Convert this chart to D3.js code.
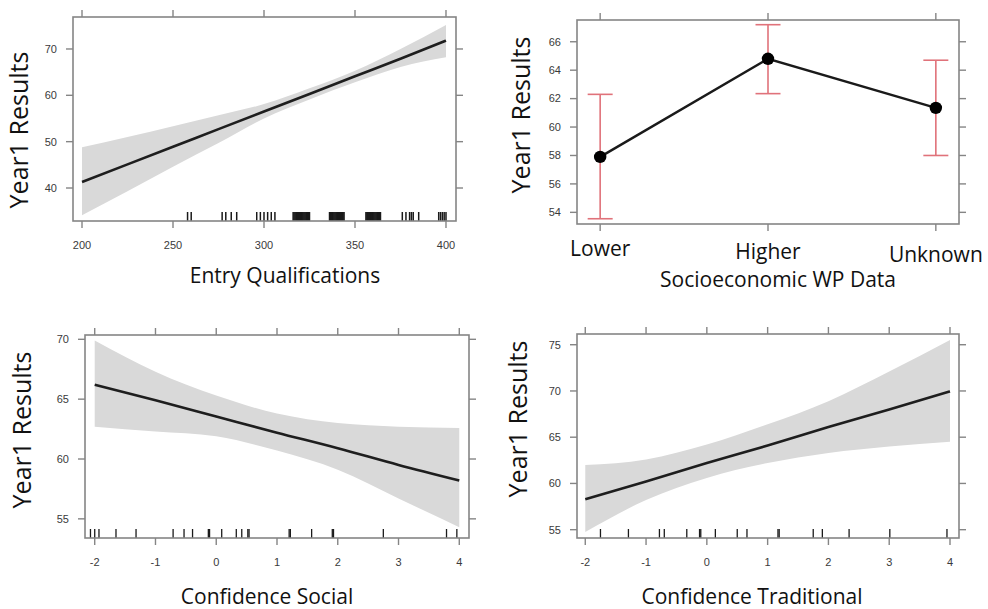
<!DOCTYPE html>
<html>
<head>
<meta charset="utf-8">
<script src="https://cdn.jsdelivr.net/npm/d3@7"></script>
<style>
  body { margin: 0; background: #fff; }
  text { font-family: "Open Sans", sans-serif; }
  .tick-label { font-family: "Liberation Sans", sans-serif; font-size: 11px; fill: #3a3a3a; }
</style>
</head>
<body>
<svg width="988" height="609"></svg>
<script>
// ---- data ----

// Entry Qualifications effect
const entryX = [200, 225, 250, 275, 300, 325, 350, 375, 400];
const entryFit = [41.3, 45.1, 48.9, 52.7, 56.5, 60.3, 64.1, 67.9, 71.8];
const entryLower = [34.1, 39.3, 44.6, 49.7, 55.0, 59.1, 62.8, 66.1, 68.2];
const entryUpper = [48.8, 51.0, 53.3, 55.7, 58.1, 61.5, 65.3, 70.0, 75.2];
const entryRug = [258, 260, 277, 279, 282, 285, 296, 298, 300, 302, 304, 306,
  316, 316.5, 317, 317.5, 318, 318.5, 319, 319.5, 320, 320.5, 321, 321.5, 322, 322.5, 323, 323.5, 324, 324.5, 325,
  336, 336.5, 337, 337.5, 338, 338.5, 339, 339.5, 340, 340.5, 341, 341.5, 342, 342.5, 343, 343.5, 344,
  356, 356.5, 357, 357.5, 358, 358.5, 359, 359.5, 360, 360.5, 361, 361.5, 362, 362.5, 363, 363.5, 364,
  376, 378, 380, 381, 382, 385, 396, 397, 398, 399, 400];
const entryTicksX = [200, 250, 300, 350, 400];
const entryTicksY = [40, 50, 60, 70];

// Socioeconomic WP Data effect
const seCats = ["Lower", "Higher", "Unknown"];
const seMean = [57.9, 64.8, 61.35];
const seLower = [53.55, 62.35, 58.0];
const seUpper = [62.3, 67.2, 64.7];
const seTicksY = [54, 56, 58, 60, 62, 64, 66];

// Confidence Social effect
const socialX = [-2, -1, 0, 1, 2, 3, 4];
const socialFit = [66.2, 64.9, 63.55, 62.2, 60.9, 59.5, 58.2];
const socialLower = [62.7, 62.3, 61.9, 60.7, 59.1, 56.7, 54.3];
const socialUpper = [69.9, 67.3, 65.3, 63.8, 63.0, 62.7, 62.6];
const socialRug = [-2.07, -2.0, -1.93, -1.65, -1.32, -0.71, -0.53, -0.39, -0.13, -0.11,
  0.09, 0.33, 0.42, 0.52, 0.54, 1.20, 1.22, 1.57, 1.91, 1.93, 2.75, 3.79, 3.96];
const socialTicksY = [55, 60, 65, 70];

// Confidence Traditional effect
const tradX = [-2, -1, 0, 1, 2, 3, 4];
const tradFit = [58.3, 60.2, 62.2, 64.1, 66.1, 68.0, 69.95];
const tradLower = [54.75, 58.2, 60.6, 62.2, 63.3, 64.0, 64.5];
const tradUpper = [62.0, 62.6, 64.2, 66.4, 68.9, 72.1, 75.5];
const tradRug = [-1.75, -1.29, -0.78, -0.70, -0.33, -0.12, -0.10, 0.14, 0.50, 0.66,
  1.17, 1.19, 1.75, 1.90, 2.34, 3.01, 3.95];
const tradTicksY = [55, 60, 65, 70, 75];
const confTicksX = [-2, -1, 0, 1, 2, 3, 4];

// ---- drawing ----
const svg = d3.select("svg");
const boxColor = "#858585";
const tickLen = 7;

function frame(g, box, x, y, xTicks, yTicks) {
  g.append("rect")
    .attr("x", box.x0).attr("y", box.y0)
    .attr("width", box.x1 - box.x0).attr("height", box.y1 - box.y0)
    .attr("fill", "none").attr("stroke", boxColor).attr("stroke-width", 1.6);

  // bottom + top ticks
  g.append("g").selectAll("line").data(xTicks).join("line")
    .attr("x1", d => x(d)).attr("x2", d => x(d))
    .attr("y1", box.y1).attr("y2", box.y1 + tickLen)
    .attr("stroke", boxColor).attr("stroke-width", 1.4);
  g.append("g").selectAll("line").data(xTicks).join("line")
    .attr("x1", d => x(d)).attr("x2", d => x(d))
    .attr("y1", box.y0).attr("y2", box.y0 - tickLen)
    .attr("stroke", boxColor).attr("stroke-width", 1.4);
  // left + right ticks
  g.append("g").selectAll("line").data(yTicks).join("line")
    .attr("x1", box.x0 - tickLen).attr("x2", box.x0)
    .attr("y1", d => y(d)).attr("y2", d => y(d))
    .attr("stroke", boxColor).attr("stroke-width", 1.4);
  g.append("g").selectAll("line").data(yTicks).join("line")
    .attr("x1", box.x1).attr("x2", box.x1 + tickLen)
    .attr("y1", d => y(d)).attr("y2", d => y(d))
    .attr("stroke", boxColor).attr("stroke-width", 1.4);

  // y tick labels
  g.append("g").selectAll("text").data(yTicks).join("text")
    .attr("class", "tick-label")
    .attr("x", box.x0 - tickLen - 9)
    .attr("y", d => y(d))
    .attr("dy", "0.35em")
    .attr("text-anchor", "end")
    .text(d => d);
}

function titles(g, p) {
  g.append("text")
    .attr("x", p.xTitle.x).attr("y", p.xTitle.y)
    .attr("text-anchor", "middle")
    .attr("font-size", 21).attr("fill", "#111")
    .text(p.xTitle.text);
  g.append("text")
    .attr("transform", `translate(${p.yTitle.x},${p.yTitle.y}) rotate(-90)`)
    .attr("text-anchor", "middle")
    .attr("font-size", 25).attr("fill", "#111")
    .text("Year1 Results");
}

function effectPanel(p) {
  const g = svg.append("g");
  const x = d3.scaleLinear().domain(p.xDomain).range([p.box.x0, p.box.x1]);
  const y = d3.scaleLinear().domain(p.yDomain).range([p.box.y1, p.box.y0]);

  const rows = p.xs.map((v, i) => ({ x: v, fit: p.fit[i], lo: p.lo[i], hi: p.hi[i] }));

  const band = d3.area()
    .x(d => x(d.x)).y0(d => y(d.lo)).y1(d => y(d.hi))
    .curve(d3.curveMonotoneX);
  g.append("path").datum(rows)
    .attr("d", band)
    .attr("fill", "#d9d9d9");

  const line = d3.line().x(d => x(d.x)).y(d => y(d.fit)).curve(d3.curveMonotoneX);
  g.append("path").datum(rows)
    .attr("d", line)
    .attr("fill", "none").attr("stroke", "#1e1e1e").attr("stroke-width", 2.6);

  // rug
  g.append("g").selectAll("line").data(p.rug).join("line")
    .attr("x1", d => x(d)).attr("x2", d => x(d))
    .attr("y1", p.box.y1 - 9).attr("y2", p.box.y1)
    .attr("stroke", "#1a1a1a").attr("stroke-width", p.rugWidth || 1.3);

  frame(g, p.box, x, y, p.xTicks, p.yTicks);

  g.append("g").selectAll("text").data(p.xTicks).join("text")
    .attr("class", "tick-label")
    .attr("x", d => x(d))
    .attr("y", p.box.y1 + 28)
    .attr("text-anchor", "middle")
    .text(d => d);

  titles(g, p);
}

// top-left
effectPanel({
  box: { x0: 73, x1: 456, y0: 17, y1: 221 },
  xDomain: [195.05, 405.5], yDomain: [32.88, 76.9],
  xs: entryX, fit: entryFit, lo: entryLower, hi: entryUpper, rug: entryRug,
  rugWidth: 1.5,
  xTicks: entryTicksX, yTicks: entryTicksY,
  xTitle: { text: "Entry Qualifications", x: 285, y: 283 },
  yTitle: { x: 28, y: 130 }
});

// bottom-left
effectPanel({
  box: { x0: 85, x1: 469, y0: 335, y1: 538 },
  xDomain: [-2.16, 4.16], yDomain: [53.4, 70.36],
  xs: socialX, fit: socialFit, lo: socialLower, hi: socialUpper, rug: socialRug,
  xTicks: confTicksX, yTicks: socialTicksY,
  xTitle: { text: "Confidence Social", x: 267, y: 604 },
  yTitle: { x: 31, y: 430 }
});

// bottom-right
effectPanel({
  box: { x0: 577, x1: 959, y0: 334, y1: 538 },
  xDomain: [-2.136, 4.148], yDomain: [54.1, 76.16],
  xs: tradX, fit: tradFit, lo: tradLower, hi: tradUpper, rug: tradRug,
  xTicks: confTicksX, yTicks: tradTicksY,
  xTitle: { text: "Confidence Traditional", x: 752, y: 604 },
  yTitle: { x: 527, y: 419 }
});

// top-right: factor effect with error bars
(function () {
  const box = { x0: 577, x1: 959, y0: 20, y1: 224 };
  const g = svg.append("g");
  const x = d3.scalePoint().domain(seCats).range([box.x0, box.x1]).padding(0.138);
  const y = d3.scaleLinear().domain([53.18, 67.53]).range([box.y1, box.y0]);
  const rows = seCats.map((c, i) => ({ c, m: seMean[i], lo: seLower[i], hi: seUpper[i] }));
  const errColor = "#e0727a";
  const cap = 12.5;

  g.append("g").selectAll("line").data(rows).join("line")
    .attr("x1", d => x(d.c)).attr("x2", d => x(d.c))
    .attr("y1", d => y(d.lo)).attr("y2", d => y(d.hi))
    .attr("stroke", errColor).attr("stroke-width", 1.6);
  ["lo", "hi"].forEach(k => {
    g.append("g").selectAll("line").data(rows).join("line")
      .attr("x1", d => x(d.c) - cap).attr("x2", d => x(d.c) + cap)
      .attr("y1", d => y(d[k])).attr("y2", d => y(d[k]))
      .attr("stroke", errColor).attr("stroke-width", 1.6);
  });

  g.append("path").datum(rows)
    .attr("d", d3.line().x(d => x(d.c)).y(d => y(d.m)))
    .attr("fill", "none").attr("stroke", "#1a1a1a").attr("stroke-width", 2.4);
  g.append("g").selectAll("circle").data(rows).join("circle")
    .attr("cx", d => x(d.c)).attr("cy", d => y(d.m)).attr("r", 6.2)
    .attr("fill", "#000");

  frame(g, box, x, y, seCats, seTicksY);

  // category labels (slightly staggered as in the original)
  const catY = { Lower: 256, Higher: 259, Unknown: 262 };
  g.append("g").selectAll("text").data(seCats).join("text")
    .attr("x", d => x(d)).attr("y", d => catY[d])
    .attr("text-anchor", "middle")
    .attr("font-size", 21).attr("fill", "#111")
    .text(d => d);

  titles(g, {
    xTitle: { text: "Socioeconomic WP Data", x: 778, y: 287 },
    yTitle: { x: 530, y: 115 }
  });
})();
</script>
</body>
</html>
